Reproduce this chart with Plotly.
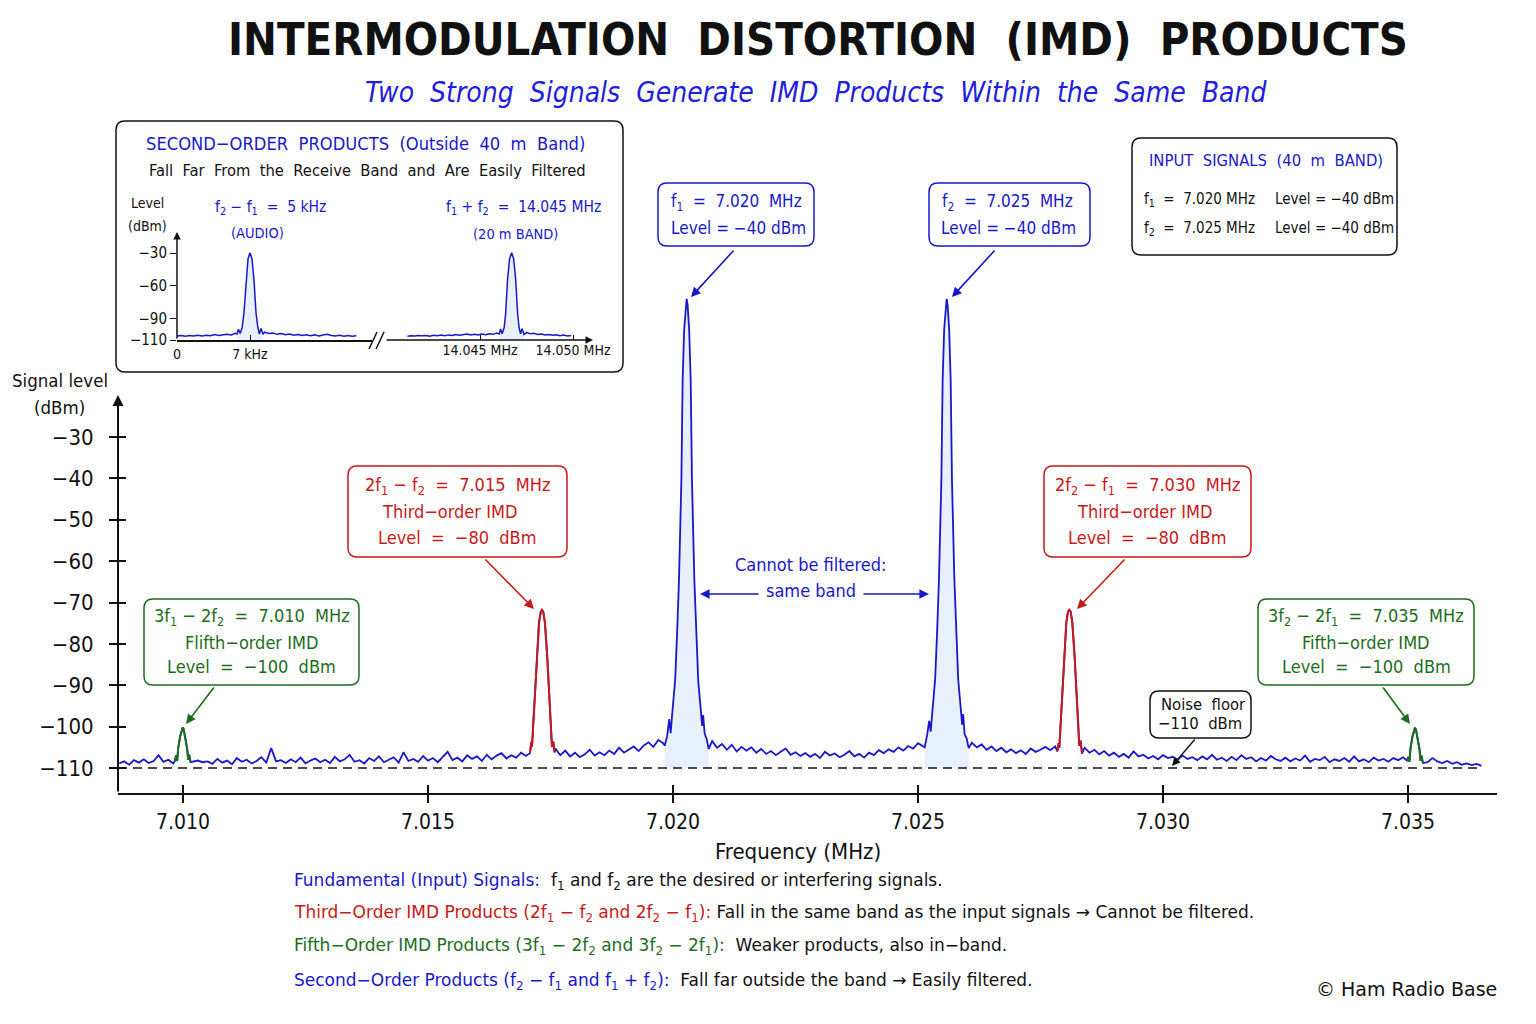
import numpy as np
import plotly.graph_objects as go

# ---------------- DATA ----------------
TICK_FREQS = [7.010, 7.015, 7.020, 7.025, 7.030, 7.035]
TICK_FREQ_LABELS = ["7.010", "7.015", "7.020", "7.025", "7.030", "7.035"]
LEVEL_TICKS = [-30, -40, -50, -60, -70, -80, -90, -100, -110]
LEVEL_TICK_LABELS = ["−30", "−40", "−50", "−60", "−70", "−80", "−90", "−100", "−110"]
NOISE_FLOOR = -110

# noise floor samples, every 0.1 kHz from 7.0087 MHz (dBm)
NOISE_START = 7.0087
NOISE_STEP = 0.0001
noise_dbm = [
    -108.9, -108.4, -109.2, -108.1, -108.7, -107.9, -108.8, -108.3, -106.9, -108.5,
    -108.0, -108.9, -108.6, -108.6, -108.6, -108.5, -108.2, -108.6, -108.4, -109.0,
    -107.8, -108.7, -108.2, -109.1, -107.6, -108.5, -108.0, -108.9, -108.3, -107.4,
    -108.7, -105.2, -108.4, -108.1, -108.8, -107.9, -108.6, -107.5, -108.9, -108.2,
    -107.7, -108.6, -108.0, -108.8, -107.3, -108.4, -107.9, -106.8, -108.5, -108.1,
    -108.9, -107.6, -108.3, -107.2, -108.6, -108.0, -107.4, -108.7, -106.2, -108.3,
    -107.8, -108.5, -107.1, -108.2, -107.6, -108.6, -107.3, -106.1, -108.1, -107.5,
    -108.4, -106.9, -107.8, -107.2, -108.3, -106.8, -107.9, -107.0, -106.4, -107.7,
    -106.9, -107.5, -106.3, -107.1, -106.5, -106.5, -106.5, -106.5, -106.5, -105.3,
    -106.9, -105.8, -107.2, -106.3, -107.4, -106.7, -105.6, -107.0, -106.2, -106.9,
    -105.8, -106.6, -105.1, -106.3, -105.5, -104.8, -105.9, -104.6, -103.8, -104.9,
    -103.2, -104.0, -104.0, -104.0, -104.0, -104.0, -104.0, -104.0, -104.0, -104.0,
    -104.0, -103.5, -105.1, -104.2, -105.6, -104.4, -106.0, -104.9, -105.8, -105.0,
    -106.3, -105.4, -106.6, -105.9, -106.9, -106.1, -105.3, -106.8, -106.2, -107.1,
    -106.4, -107.3, -106.6, -107.6, -106.1, -107.0, -106.5, -107.4, -106.8, -105.9,
    -107.2, -106.6, -107.5, -106.3, -106.9, -105.7, -106.4, -105.5, -106.1, -105.0,
    -105.8, -104.7, -105.3, -104.0, -104.6, -104.0, -104.0, -104.0, -104.0, -104.0,
    -104.0, -104.0, -104.0, -104.0, -103.9, -105.0, -104.3, -105.6, -104.8, -105.9,
    -105.1, -106.2, -105.5, -106.4, -105.7, -106.6, -105.3, -106.1, -105.6, -104.9,
    -105.7, -104.8, -105.5, -105.5, -105.5, -105.5, -105.5, -105.1, -106.3, -105.6,
    -106.7, -105.9, -107.0, -106.3, -107.3, -106.6, -107.5, -106.0, -107.2, -106.8,
    -107.7, -107.1, -107.9, -106.9, -107.6, -107.3, -108.0, -107.0, -107.8, -107.4,
    -108.1, -107.2, -107.9, -106.8, -108.0, -107.5, -108.3, -107.3, -108.1, -106.9,
    -107.8, -107.4, -108.4, -107.6, -108.2, -107.1, -107.9, -108.3, -107.5, -108.4,
    -107.7, -108.2, -107.0, -108.5, -107.8, -108.1, -107.3, -108.6, -107.9, -108.3,
    -107.6, -108.5, -107.2, -108.4, -107.9, -108.6, -107.5, -108.2, -107.8, -108.5,
    -107.6, -108.1, -107.4, -108.0, -108.0, -108.0, -107.9, -108.6, -107.6, -108.4,
    -108.8, -108.3, -109.0, -108.6, -109.2, -108.9, -109.3, -109.0, -109.5,
]

# fundamental signals f1, f2 (centre MHz, offsets MHz, level dBm)
f1_center = 7.020279
f2_center = 7.025585
fund_offsets = [-0.000449, -0.000398, -0.000357, -0.000327, -0.000296, -0.000235, -0.000194,
                -0.000157, -0.000108, -0.000082, -0.000051, -0.000020, 0.0, 0.000020, 0.000051,
                0.000082, 0.000108, 0.000157, 0.000194, 0.000235, 0.000296, 0.000316, 0.000337,
                0.000367, 0.000408, 0.000449]
f1_levels = [-104.6, -102.3, -98.2, -101.6, -97.0, -88.7, -77.0, -64.6, -40.4, -16.2, -4.1, 1.8,
             3.4, 1.8, -4.1, -16.2, -40.4, -64.6, -77.0, -88.7, -97.0, -99.8, -97.2, -101.7,
             -103.0, -105.4]
f2_levels = [-105.0, -102.0, -98.6, -101.2, -97.2, -88.5, -76.8, -64.4, -40.3, -16.3, -4.0, 1.9,
             3.4, 1.9, -4.0, -16.3, -40.3, -64.4, -76.8, -88.5, -96.8, -99.5, -97.0, -101.9,
             -102.8, -105.2]

# third-order products 2f1-f2, 2f2-f1
im3_low_center = 7.017326
im3_high_center = 7.028088
im3_offsets = [-0.000245, -0.000218, -0.000204, -0.000178, -0.000108, -0.000061, -0.000027, 0.0,
               0.000027, 0.000061, 0.000108, 0.000178, 0.000204, 0.000231, 0.000259]
im3_low_levels = [-106.4, -103.7, -104.9, -99.1, -83.2, -75.0, -72.3, -71.8, -72.3, -75.0, -83.2,
                  -99.1, -104.9, -103.6, -106.2]
im3_high_levels = [-106.0, -104.0, -105.1, -99.3, -83.0, -74.8, -72.2, -71.8, -72.2, -74.8,
                   -83.0, -99.0, -104.6, -103.4, -106.5]

# fifth-order products 3f1-2f2, 3f2-2f1
im5_low_center = 7.009993
im5_high_center = 7.035142
im5_offsets = [-0.000163, -0.000133, -0.000112, -0.000092, -0.000051, -0.000020, 0.0, 0.000020,
               0.000051, 0.000092, 0.000112, 0.000133, 0.000163]
im5_low_levels = [-108.4, -107.0, -108.3, -105.3, -102.3, -100.6, -100.2, -100.6, -102.3, -105.3,
                  -108.0, -106.8, -108.6]
im5_high_levels = [-108.2, -107.3, -108.5, -105.4, -102.4, -100.7, -100.3, -100.7, -102.4,
                   -105.4, -108.2, -107.0, -108.8]

# inset: second-order products
inset_tick_levels = [-30, -60, -90, -110]
inset_tick_labels = ["−30", "−60", "−90", "−110"]
audio_start_khz = 0.0
audio_step_khz = 0.4
audio_noise = [-106.4, -105.9, -106.6, -105.8, -106.3, -105.6, -106.2, -105.7, -106.1, -105.0,
               -105.9, -105.3, -104.7, -105.4, -103.9, -104.5, -104.5, -104.0, -104.0, -104.0,
               -104.0, -102.8, -104.1, -103.6, -104.8, -104.0, -105.2, -104.4, -105.6, -104.9,
               -105.8, -105.1, -106.0, -105.3, -106.2, -105.5, -104.8, -105.9, -106.3, -105.7,
               -106.5, -105.9, -106.6, -106.2]
audio_center_khz = 7.0
audio_offsets = [-1.25, -1.10, -0.95, -0.75, -0.58, -0.38, -0.19, 0.0, 0.19, 0.38, 0.58, 0.75,
                 0.90, 1.05, 1.25]
audio_levels = [-104.5, -100.0, -104.0, -98.5, -85.2, -54.8, -35.5, -29.7, -35.5, -54.8, -85.2,
                -98.5, -104.5, -99.5, -104.8]
sum_start_mhz = 14.0411
sum_step_mhz = 0.0002
sum_noise = [-106.5, -106.0, -106.4, -105.8, -106.2, -105.9, -106.5, -105.7, -106.1, -105.5,
             -106.0, -105.3, -105.8, -104.9, -105.6, -105.2, -104.6, -105.3, -104.8, -105.4,
             -104.5, -105.1, -104.2, -104.8, -103.6, -104.0, -104.0, -104.0, -104.0, -104.0,
             -104.0, -104.0, -103.2, -104.3, -103.9, -105.0, -104.4, -105.3, -104.9, -105.7,
             -105.2, -106.0, -105.5, -106.2, -105.8]
sum_center_mhz = 14.0467
sum_offsets = [-0.00067, -0.00059, -0.00051, -0.00040, -0.00032, -0.00022, -0.00011, 0.0,
               0.00011, 0.00022, 0.00032, 0.00040, 0.00048, 0.00056, 0.00067]
sum_levels = [-104.5, -99.8, -104.2, -98.5, -85.2, -54.8, -35.5, -29.7, -35.5, -54.8, -85.2,
              -98.5, -104.3, -99.6, -104.9]

# ---------------- LAYOUT GEOMETRY ----------------
W, H = 1536, 1024
PL, PR, PT, PB = 118, 1497, 120, 793
PXW, PYH = PR - PL, PB - PT
XPX = 49000.0          # pixels per MHz on main axis
YPX = 4.1375           # pixels per dB on main axis
X_MIN = 7.010 - (183 - PL) / XPX
X_MAX = X_MIN + PXW / XPX
Y_MIN = -110 - (PB - 768) / YPX
Y_MAX = Y_MIN + PYH / YPX

BLUE = "#1818c8"
RED = "#c81818"
GREEN = "#1d6b1d"
BLACK = "#111111"
FILL = "rgba(80,140,240,0.13)"
FONT = "DejaVu Sans"
FONT_C = "DejaVu Sans Condensed, DejaVu Sans"


def PX(x):
    return (x - PL) / PXW


def PY(y):
    return (PB - y) / PYH


def peak(center, offsets, levels):
    return [center + o for o in offsets], list(levels)


def merge(noise_f, noise_l, peaks):
    pts = [(f, l) for f, l in zip(noise_f, noise_l)
           if not any(pf[0] <= f <= pf[-1] for pf, _ in peaks)]
    for pf, pl in peaks:
        pts += list(zip(pf, pl))
    pts.sort()
    return [p[0] for p in pts], [p[1] for p in pts]


noise_f = [NOISE_START + NOISE_STEP * i for i in range(len(noise_dbm))]
P_f1 = peak(f1_center, fund_offsets, f1_levels)
P_f2 = peak(f2_center, fund_offsets, f2_levels)
P_3l = peak(im3_low_center, im3_offsets, im3_low_levels)
P_3h = peak(im3_high_center, im3_offsets, im3_high_levels)
P_5l = peak(im5_low_center, im5_offsets, im5_low_levels)
P_5h = peak(im5_high_center, im5_offsets, im5_high_levels)
spec_f, spec_l = merge(noise_f, noise_dbm, [P_f1, P_f2, P_3l, P_3h, P_5l, P_5h])

audio_f = [audio_start_khz + audio_step_khz * i for i in range(len(audio_noise))]
P_a = peak(audio_center_khz, audio_offsets, audio_levels)
aud_f, aud_l = merge(audio_f, audio_noise, [P_a])
sum_f = [sum_start_mhz + sum_step_mhz * i for i in range(len(sum_noise))]
P_s = peak(sum_center_mhz, sum_offsets, sum_levels)
s_f, s_l = merge(sum_f, sum_noise, [P_s])

fig = go.Figure()


def fill_trace(P, xa="x", ya="y", base=NOISE_FLOOR):
    xs = P[0] + [P[0][-1], P[0][0]]
    ys = P[1] + [base, base]
    fig.add_trace(go.Scatter(x=xs, y=ys, fill="toself", fillcolor=FILL, mode="lines",
                             line=dict(width=0), xaxis=xa, yaxis=ya, hoverinfo="skip",
                             showlegend=False))


fill_trace(P_f1)
fill_trace(P_f2)
fig.add_trace(go.Scatter(x=[X_MIN, noise_f[-1]], y=[NOISE_FLOOR, NOISE_FLOOR], mode="lines",
                         line=dict(color=BLACK, width=1.5, dash="9px,6px"),
                         hoverinfo="skip", showlegend=False))
fig.add_trace(go.Scatter(x=spec_f, y=spec_l, mode="lines", line=dict(color=BLUE, width=1.8),
                         showlegend=False))
for P, c in [(P_3l, RED), (P_3h, RED), (P_5l, GREEN), (P_5h, GREEN)]:
    fig.add_trace(go.Scatter(x=P[0], y=P[1], mode="lines", line=dict(color=c, width=2),
                             showlegend=False))
# overlay axes for crossing ticks
fig.add_trace(go.Scatter(x=[None], y=[None], xaxis="x2", yaxis="y2", showlegend=False,
                         hoverinfo="skip"))
# inset traces
fill_trace(P_a, "x3", "y3", -110)
fill_trace(P_s, "x4", "y3", -110)
fig.add_trace(go.Scatter(x=aud_f, y=aud_l, mode="lines", line=dict(color=BLUE, width=1.5),
                         xaxis="x3", yaxis="y3", showlegend=False))
fig.add_trace(go.Scatter(x=s_f, y=s_l, mode="lines", line=dict(color=BLUE, width=1.5),
                         xaxis="x4", yaxis="y3", showlegend=False))

# inset axes geometry
IA_X0, IA_X1 = 177, 372
IB_X0, IB_X1 = 385, 592
IY_BOT, IY_TOP = 340, 233
IY_PX = (340 - 253) / 80.0
I_KHZ_PX = (250 - 177) / 7.0
I_MHZ_PX = (573 - 480) / 0.005

fig.update_layout(
    width=W, height=H,
    margin=dict(l=PL, r=W - PR, t=PT, b=H - PB),
    paper_bgcolor="white", plot_bgcolor="rgba(0,0,0,0)",
    font=dict(family=FONT_C, color=BLACK),
    xaxis=dict(domain=[0, 1], range=[X_MIN, X_MAX], tickvals=TICK_FREQS,
               ticktext=TICK_FREQ_LABELS, ticks="outside", ticklen=8, tickwidth=2,
               tickcolor=BLACK, showline=True, linecolor=BLACK, linewidth=2,
               showgrid=False, zeroline=False, anchor="y",
               tickfont=dict(size=21, color=BLACK, family=FONT_C), ticklabelstandoff=1),
    xaxis2=dict(overlaying="x", range=[X_MIN, X_MAX], tickvals=TICK_FREQS, ticks="inside",
                ticklen=8, tickwidth=2, tickcolor=BLACK, showticklabels=False,
                showgrid=False, zeroline=False, showline=False, anchor="y2", side="bottom"),
    yaxis=dict(domain=[0, 1], range=[Y_MIN, Y_MAX], tickvals=LEVEL_TICKS,
               ticktext=LEVEL_TICK_LABELS, ticks="outside", ticklen=8, tickwidth=2,
               tickcolor=BLACK, showline=False, showgrid=False, zeroline=False, anchor="x",
               tickfont=dict(size=22, color=BLACK, family=FONT_C), ticklabelstandoff=11),
    yaxis2=dict(overlaying="y", range=[Y_MIN, Y_MAX], tickvals=LEVEL_TICKS, ticks="inside",
                ticklen=8, tickwidth=2, tickcolor=BLACK, showticklabels=False,
                showgrid=False, zeroline=False, showline=False, anchor="x2", side="left"),
    xaxis3=dict(domain=[PX(IA_X0), PX(IA_X1)], range=[0, (IA_X1 - IA_X0) / I_KHZ_PX],
                tickvals=[0, 7], ticktext=["0", "7 kHz"], ticks="inside", ticklen=5,
                tickcolor=BLACK, showline=True, linecolor=BLACK, linewidth=1.5,
                showgrid=False, zeroline=False, anchor="y3",
                tickfont=dict(size=14, color=BLACK, family=FONT_C)),
    xaxis4=dict(domain=[PX(IB_X0), PX(IB_X1)],
                range=[14.045 - (480 - IB_X0) / I_MHZ_PX, 14.045 + (IB_X1 - 480) / I_MHZ_PX],
                tickvals=[14.045, 14.050], ticktext=["14.045 MHz", "14.050 MHz"],
                ticks="inside", ticklen=5, tickcolor=BLACK, showline=False,
                showgrid=False, zeroline=False, anchor="y3",
                tickfont=dict(size=14, color=BLACK, family=FONT_C)),
    yaxis3=dict(domain=[PY(IY_BOT), PY(IY_TOP)],
                range=[-110, -110 + (IY_BOT - IY_TOP) / IY_PX],
                tickvals=inset_tick_levels, ticktext=inset_tick_labels, ticks="outside",
                ticklen=6, tickcolor=BLACK, showline=False, showgrid=False, zeroline=False,
                anchor="x3", tickfont=dict(size=15, color=BLACK, family=FONT_C)),
)

shapes = []
anns = []


def rrect(x0, y0, x1, y1, color, r=9, width=1.5):
    X0, X1, Yt, Yb = PX(x0), PX(x1), PY(y0), PY(y1)
    rx, ry = r / PXW, r / PYH
    path = (f"M {X0+rx},{Yt} L {X1-rx},{Yt} Q {X1},{Yt} {X1},{Yt-ry} L {X1},{Yb+ry} "
            f"Q {X1},{Yb} {X1-rx},{Yb} L {X0+rx},{Yb} Q {X0},{Yb} {X0},{Yb+ry} "
            f"L {X0},{Yt-ry} Q {X0},{Yt} {X0+rx},{Yt} Z")
    shapes.append(dict(type="path", path=path, xref="paper", yref="paper",
                       line=dict(color=color, width=width), fillcolor="white", layer="below"))


def text(x, y, s, size, color=BLACK, xanchor="center", family=FONT_C, bold=False, italic=False):
    if bold:
        s = f"<b>{s}</b>"
    if italic:
        s = f"<i>{s}</i>"
    anns.append(dict(x=PX(x), y=PY(y), xref="paper", yref="paper", text=s, showarrow=False,
                     xanchor=xanchor, yanchor="middle",
                     font=dict(size=size, color=color, family=family)))


def arrow(tx, ty, hx, hy, color, width=1.6, size=1.2):
    anns.append(dict(x=PX(hx), y=PY(hy), xref="paper", yref="paper", text="",
                     showarrow=True, ax=tx - hx, ay=ty - hy, axref="pixel", ayref="pixel",
                     arrowhead=2, arrowsize=size, arrowwidth=width, arrowcolor=color,
                     standoff=0, startstandoff=0))


# title
text(818, 40, "INTERMODULATION  DISTORTION  (IMD)  PRODUCTS", 45, BLACK, bold=True)
text(816, 93, "Two  Strong  Signals  Generate  IMD  Products  Within  the  Same  Band", 28,
     "#2020dc", italic=True)

# main axis arrow (y) and titles
arrow(118, 793, 118, 395, BLACK, width=2, size=1.1)
text(60, 381, "Signal level", 18.5)
text(60, 407, "(dBm)", 18.5)
text(798, 851, "Frequency (MHz)", 22)

# inset
rrect(116, 121, 623, 372, BLACK)
text(365, 143, "SECOND−ORDER  PRODUCTS  (Outside  40  m  Band)", 18.2, BLUE)
text(367, 171, "Fall  Far  From  the  Receive  Band  and  Are  Easily  Filtered", 16.4)
text(147, 203, "Level", 14)
text(147, 226, "(dBm)", 14)
text(270, 208, "f<sub>2</sub> − f<sub>1</sub>  =  5 kHz", 15.5, BLUE)
text(257, 233, "(AUDIO)", 14.5, BLUE)
text(523, 208, "f<sub>1</sub> + f<sub>2</sub>  =  14.045 MHz", 15.5, BLUE)
text(515, 234, "(20 m BAND)", 14.5, BLUE)
arrow(177, 340, 177, 232, BLACK, width=1.5, size=1.0)
arrow(385, 340, 593, 340, BLACK, width=1.5, size=1.0)
shapes.append(dict(type="line", xref="paper", yref="paper", x0=PX(369), y0=PY(349),
                   x1=PX(377), y1=PY(332), line=dict(color=BLACK, width=1.5)))
shapes.append(dict(type="line", xref="paper", yref="paper", x0=PX(376), y0=PY(349),
                   x1=PX(384), y1=PY(332), line=dict(color=BLACK, width=1.5)))

# input signals box
rrect(1132, 138, 1397, 255, BLACK)
text(1266, 160, "INPUT  SIGNALS  (40  m  BAND)", 16.5, BLUE)
text(1142, 199, "f<sub>1</sub>  =  7.020 MHz", 15, xanchor="left")
text(1273, 199, "Level = −40 dBm", 15, xanchor="left")
text(1142, 228, "f<sub>2</sub>  =  7.025 MHz", 15, xanchor="left")
text(1273, 228, "Level = −40 dBm", 15, xanchor="left")

# fundamental callouts
rrect(658, 183, 814, 246, BLUE)
text(736, 202, "f<sub>1</sub>  =  7.020  MHz", 17, BLUE)
text(738, 228, "Level = −40 dBm", 17, BLUE)
arrow(735, 249, 691, 297, BLUE)
rrect(929, 183, 1090, 246, BLUE)
text(1007, 202, "f<sub>2</sub>  =  7.025  MHz", 17, BLUE)
text(1009, 228, "Level = −40 dBm", 17, BLUE)
arrow(996, 249, 952, 297, BLUE)

# third order
rrect(348, 466, 567, 557, RED)
text(457, 486, "2f<sub>1</sub> − f<sub>2</sub>  =  7.015  MHz", 18, RED)
text(449, 512, "Third−order IMD", 18, RED)
text(457, 537, "Level  =  −80  dBm", 18, RED)
arrow(484, 558, 534, 609, RED)
rrect(1044, 466, 1251, 557, RED)
text(1147, 486, "2f<sub>2</sub> − f<sub>1</sub>  =  7.030  MHz", 18, RED)
text(1144, 512, "Third−order IMD", 18, RED)
text(1147, 537, "Level  =  −80  dBm", 18, RED)
arrow(1126, 558, 1077, 609, RED)

# fifth order
rrect(144, 599, 359, 685, GREEN)
text(252, 617, "3f<sub>1</sub> − 2f<sub>2</sub>  =  7.010  MHz", 18, GREEN)
text(251, 642, "Flifth−order IMD", 18, GREEN)
text(251, 666, "Level  =  −100  dBm", 18, GREEN)
arrow(215, 686, 186, 724, GREEN)
rrect(1258, 599, 1474, 685, GREEN)
text(1366, 617, "3f<sub>2</sub> − 2f<sub>1</sub>  =  7.035  MHz", 18, GREEN)
text(1366, 642, "Fifth−order IMD", 18, GREEN)
text(1366, 666, "Level  =  −100  dBm", 18, GREEN)
arrow(1382, 686, 1410, 724, GREEN)

# noise floor
rrect(1150, 691, 1251, 738, BLACK)
text(1203, 704, "Noise  floor", 16.5)
text(1200, 723, "−110  dBm", 16.5)
arrow(1196, 738, 1172, 766, BLACK, width=1.4)

# same band
text(811, 564, "Cannot be filtered:", 18, BLUE)
text(811, 590, "same band", 18, BLUE)
arrow(760, 594, 700, 594, BLUE)
arrow(862, 594, 929, 594, BLUE)

# notes
text(292, 881, f"<span style='color:{BLUE}'>Fundamental (Input) Signals:</span>  f<sub>1</sub> and f<sub>2</sub> are the desired or interfering signals.", 17, xanchor="left", family=FONT)
text(292, 913, f"<span style='color:{RED}'>Third−Order IMD Products (2f<sub>1</sub> − f<sub>2</sub> and 2f<sub>2</sub> − f<sub>1</sub>):</span> Fall in the same band as the input signals → Cannot be filtered.", 17, xanchor="left", family=FONT)
text(292, 946, f"<span style='color:{GREEN}'>Fifth−Order IMD Products (3f<sub>1</sub> − 2f<sub>2</sub> and 3f<sub>2</sub> − 2f<sub>1</sub>):</span>  Weaker products, also in−band.", 17, xanchor="left", family=FONT)
text(292, 982, f"<span style='color:{BLUE}'>Second−Order Products (f<sub>2</sub> − f<sub>1</sub> and f<sub>1</sub> + f<sub>2</sub>):</span>  Fall far outside the band → Easily filtered.", 17, xanchor="left", family=FONT)
text(1499, 989, "© Ham Radio Base", 19, xanchor="right", family=FONT)

fig.update_layout(shapes=shapes, annotations=anns)
fig.write_html("out.html")
